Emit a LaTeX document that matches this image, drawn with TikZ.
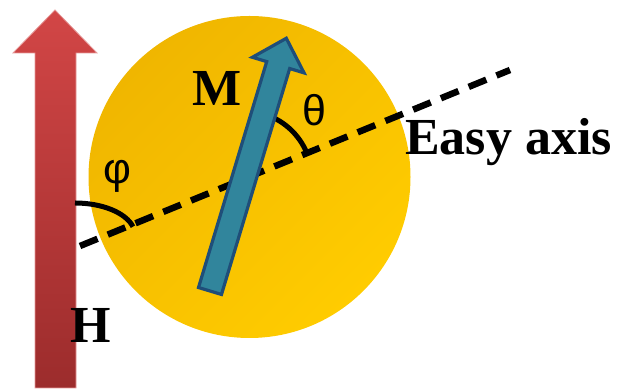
\documentclass[tikz,border=0pt]{standalone}
\usepackage{fontspec}
\setmainfont{Liberation Serif}
\newfontfamily\gregofont{Liberation Sans}
\usepackage{tikz}
\usetikzlibrary{calc}
\definecolor{vermelhoclaro}{HTML}{D24646}
\definecolor{vermelhoesc}{HTML}{9C2C2C}
\definecolor{ouroesc}{HTML}{F0B600}
\definecolor{ouromeio}{HTML}{FDC600}
\definecolor{ouroclaro}{HTML}{FFCC00}
\definecolor{azulpet}{HTML}{31859C}
\definecolor{azulesc}{HTML}{1F4E79}

\begin{document}
\begin{tikzpicture}[x=1pt, y=1pt,
  eixo/.style={dash pattern=on 19pt off 11pt, line width=6.5pt},
  angulo/.style={line width=5pt},
  rotulo/.style={font=\fontsize{52}{60}\selectfont\bfseries, inner sep=0pt},
  grego/.style={font=\gregofont\fontsize{43}{50}\selectfont, inner sep=0pt}]
\useasboundingbox (0,0) rectangle (619,390);
\coordinate (centro) at (249.5,213);
\coordinate (cruz) at (244,211);
\coordinate (eixoA) at (80,144);
\coordinate (eixoB) at (510,320);
% particle
\shade[shading=axis, top color=ouroesc, middle color=ouromeio, bottom color=ouroclaro, shading angle=45] (centro) circle (161);
% applied field
\shadedraw[top color=vermelhoclaro, bottom color=vermelhoesc, draw=vermelhoclaro!55, line width=0.8pt]
  (35,2) -- (35,337) -- (13,337) -- (55,380) -- (97,337) -- (76,337) -- (76,2) -- cycle;
% easy axis and angles
\draw[eixo] (eixoA) -- (eixoB);
\draw[angulo] (75,187) arc[start angle=90, end angle=15, x radius=60, y radius=32];
\draw[angulo] ($(cruz)+(22.3:68)$) arc[start angle=22.3, end angle=75, radius=68];
% magnetization
\begin{scope}[shift={(210,99)}, rotate=73.2]
  \filldraw[fill=azulpet, draw=azulesc, line width=3.2pt]
    (0,-12) -- (236,-12) -- (236,-27) -- (264,0) -- (236,27) -- (236,12) -- (0,12) -- cycle;
\end{scope}
\node[rotulo] (rotM) at (217,302) {M};
\node[rotulo] (rotH) at (91,65) {H};
\node[rotulo, anchor=base west] (rotEixo) at (405,235) {Easy axis};
\node[grego] (rotPhi) at (117,214) {φ};
\node[grego] (rotTheta) at (314,280) {θ};
\end{tikzpicture}
\end{document}
